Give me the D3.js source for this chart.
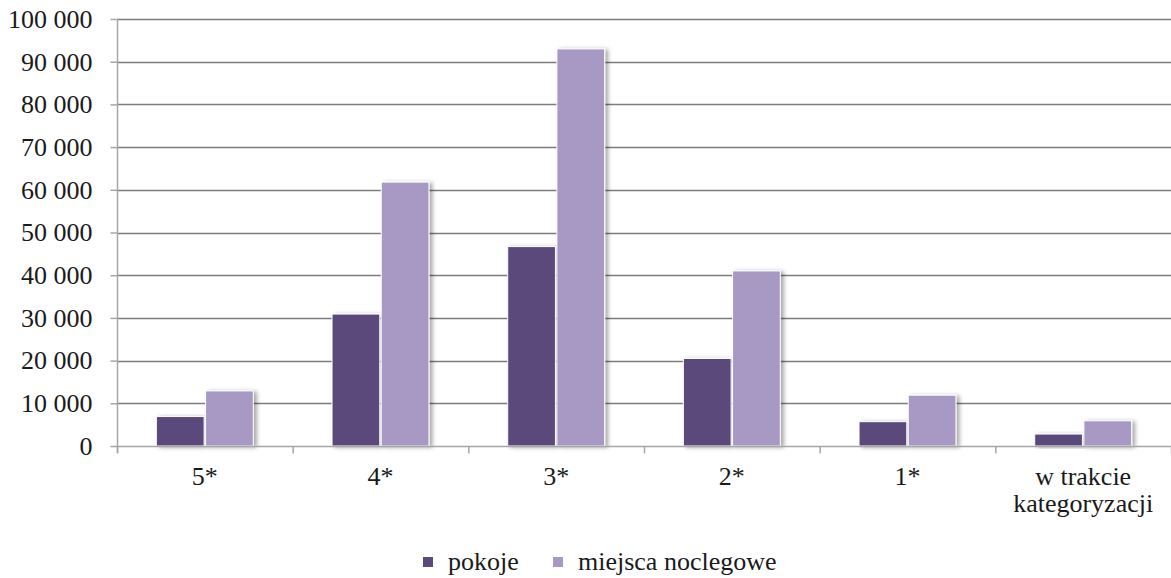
<!DOCTYPE html>
<html>
<head>
<meta charset="utf-8">
<script src="https://cdn.jsdelivr.net/npm/d3@7"></script>
<style>
  body { margin: 0; background: #fff; }
  svg text { font-family: 'Liberation Serif', serif; fill: #1a1a1a; }
</style>
</head>
<body>
<div id="chart"></div>
<script>

/*
 * Chart data.
 */
var categories = ['5*', '4*', '3*', '2*', '1*', 'w trakcie kategoryzacji'];
var pokoje = [6900, 30900, 46700, 20500, 5700, 2800];
var miejsca = [12900, 61800, 93000, 41000, 11900, 5900];
var seriesNames = ['pokoje', 'miejsca noclegowe'];
var yTicks = [0, 10000, 20000, 30000, 40000, 50000, 60000, 70000, 80000, 90000, 100000];

var colors = ['#5b4a7c', '#a799c3'];
var width = 1171, height = 578;
var margin = { top: 19, right: 0, bottom: 132, left: 117 };
var fontSize = '26px';

// Create SVG element.
var svg = d3.select('#chart').append('svg')
  .attr('width', width)
  .attr('height', height)
  .attr('font-family', 'Liberation Serif');

// Bar shadow.
var filter = svg.append('defs').append('filter')
  .attr('id', 'shadow')
  .attr('x', '-20%').attr('y', '-20%')
  .attr('width', '150%').attr('height', '140%');
filter.append('feDropShadow')
  .attr('dx', 3).attr('dy', 1)
  .attr('stdDeviation', 2)
  .attr('flood-color', '#000')
  .attr('flood-opacity', 0.35);

// Scales.
var x = d3.scaleBand()
  .domain(categories)
  .range([margin.left, width - margin.right]);

var x1 = d3.scaleBand()
  .domain(seriesNames)
  .range([0, x.bandwidth()])
  .paddingInner(0.03)
  .paddingOuter(0.8);

var y = d3.scaleLinear()
  .domain([0, 100000])
  .range([height - margin.bottom, margin.top]);

var fmt = function(d) { return d3.format(',')(d).replace(/,/g, ' '); };

// Gridlines.
svg.append('g')
  .selectAll('line')
  .data(yTicks.slice(1))
  .join('line')
  .attr('x1', margin.left)
  .attr('x2', width)
  .attr('y1', function(d) { return Math.round(y(d)) + 0.5; })
  .attr('y2', function(d) { return Math.round(y(d)) + 0.5; })
  .attr('stroke', '#7c7c7c')
  .attr('stroke-width', 1.6);

// Y axis.
var yAxis = svg.append('g')
  .attr('transform', 'translate(' + (margin.left + 0.5) + ',0)')
  .call(d3.axisLeft(y).tickValues(yTicks).tickFormat(fmt).tickSize(7).tickPadding(18));
yAxis.attr('font-family', 'Liberation Serif').attr('font-size', fontSize);
yAxis.select('.domain').attr('stroke', '#a6a6a6').attr('stroke-width', 1.5)
  .attr('d', 'M0,' + margin.top + 'V' + (y(0) + 7));
yAxis.selectAll('.tick line').attr('stroke', '#a6a6a6').attr('stroke-width', 1.5);
yAxis.selectAll('.tick text').attr('fill', '#1a1a1a');

// Bars.
var groups = svg.append('g')
  .selectAll('g')
  .data(categories)
  .join('g')
  .attr('transform', function(d) { return 'translate(' + x(d) + ',0)'; });

groups.selectAll('rect')
  .data(function(d, i) {
    return [
      { name: seriesNames[0], value: pokoje[i], color: colors[0] },
      { name: seriesNames[1], value: miejsca[i], color: colors[1] }
    ];
  })
  .join('rect')
  .attr('x', function(d) { return x1(d.name); })
  .attr('y', function(d) { return y(d.value); })
  .attr('width', x1.bandwidth())
  .attr('height', function(d) { return y(0) - y(d.value); })
  .attr('fill', function(d) { return d.color; })
  .attr('stroke', '#fff')
  .attr('stroke-width', 1)
  .attr('filter', 'url(#shadow)');

// X axis.
var xAxis = svg.append('g')
  .attr('transform', 'translate(0,' + (Math.round(y(0)) + 0.5) + ')');
xAxis.append('line')
  .attr('x1', margin.left)
  .attr('x2', width)
  .attr('stroke', '#a6a6a6')
  .attr('stroke-width', 1.5);
xAxis.selectAll('.xtick')
  .data(categories.concat(['end']))
  .join('line')
  .attr('class', 'xtick')
  .attr('x1', function(d, i) { return margin.left + i * x.step() + 0.5; })
  .attr('x2', function(d, i) { return margin.left + i * x.step() + 0.5; })
  .attr('y1', 0)
  .attr('y2', 7)
  .attr('stroke', '#a6a6a6')
  .attr('stroke-width', 1.5);

// Category labels, split long ones.
xAxis.selectAll('.xlabel')
  .data(categories)
  .join('text')
  .attr('class', 'xlabel')
  .attr('text-anchor', 'middle')
  .style('font-size', fontSize)
  .each(function(d) {
    var words = d.length > 10 ? ['w trakcie', 'kategoryzacji'] : [d];
    var t = d3.select(this);
    words.forEach(function(w, i) {
      t.append('tspan')
        .attr('x', x(d) + x.bandwidth() / 2)
        .attr('y', 38 + i * 27)
        .text(w);
    });
  });

// Legend.
var legend = svg.append('g').attr('transform', 'translate(0,' + 570 + ')');
var legendX = [423, 553];
seriesNames.forEach(function(name, i) {
  legend.append('rect')
    .attr('x', legendX[i])
    .attr('y', -13)
    .attr('width', 10)
    .attr('height', 10)
    .attr('fill', colors[i]);
  legend.append('text')
    .attr('x', legendX[i] + 25)
    .attr('y', 0)
    .style('font-size', fontSize)
    .text(name);
});

</script>
</body>
</html>
